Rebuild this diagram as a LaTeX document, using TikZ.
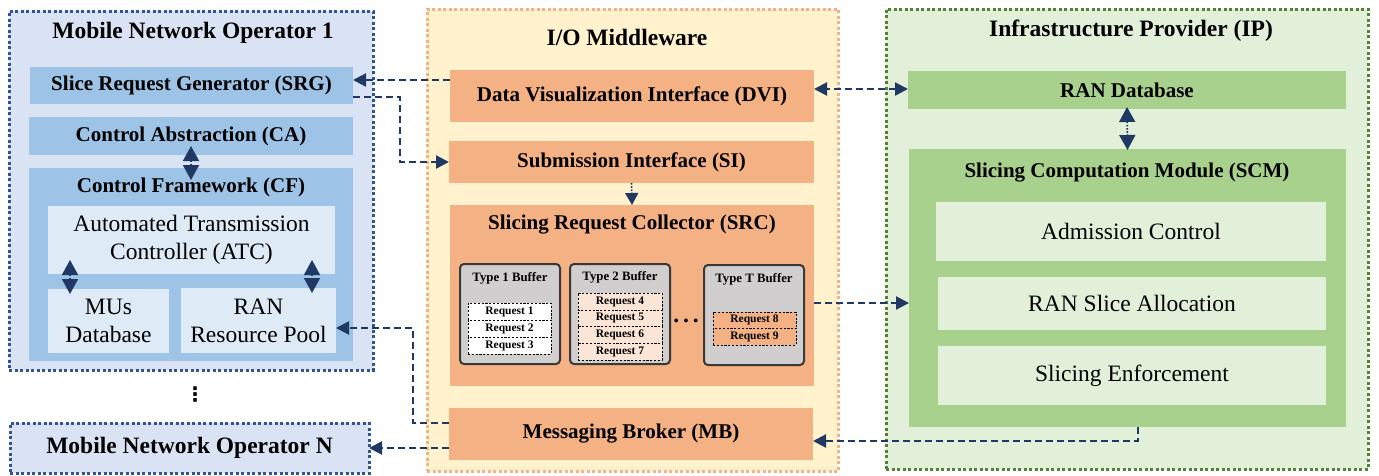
\documentclass[tikz,border=0pt]{standalone}
\usepackage{fontspec}
\setmainfont{Liberation Serif}
\newfontfamily\dejavu{DejaVu Sans}
\usetikzlibrary{arrows.meta,calc}
\definecolor{mnofill}{HTML}{DAE3F3}
\definecolor{mnoline}{HTML}{2F5597}
\definecolor{bluemid}{HTML}{9DC3E6}
\definecolor{bluelight}{HTML}{DEEBF7}
\definecolor{iofill}{HTML}{FFF2CC}
\definecolor{ioline}{HTML}{F4B183}
\definecolor{orangebox}{HTML}{F4B183}
\definecolor{ipfill}{HTML}{E2F0D9}
\definecolor{ipline}{HTML}{548235}
\definecolor{greenbox}{HTML}{A9D18E}
\definecolor{arrowc}{HTML}{203864}
\definecolor{bufgray}{HTML}{D0CECE}
\definecolor{bufline}{HTML}{3B3838}
\definecolor{reqpeach}{HTML}{FBE5D6}
\newcommand{\fttl}{\fontsize{23.5}{27}\selectfont\bfseries}
\newcommand{\fsub}{\fontsize{21}{25}\selectfont\bfseries}
\newcommand{\freg}{\fontsize{23.5}{28}\selectfont}
\newcommand{\fbuf}{\fontsize{12.8}{15}\selectfont\bfseries}
\newcommand{\freq}{\fontsize{11.5}{13}\selectfont\bfseries}
\begin{document}
\begin{tikzpicture}[x=1pt,y=-1pt,
  rect/.style n args={4}{minimum width={#3-#1}, minimum height={#4-#2}, at={({(#1+#3)/2},{(#2+#4)/2})}},
  bx/.style={inner sep=0pt, outer sep=0pt, align=center, anchor=center},
  dotborder/.style={line width=3pt, dash pattern=on 3pt off 2.5pt},
  ttl/.style={inner sep=0pt, font=\fttl},
  subbox/.style={bx, font=\fsub},
  regbox/.style={bx, font=\freg},
  buffer/.style={bx, fill=bufgray, draw=bufline, line width=2pt, rounded corners=4pt},
  bufttl/.style={inner sep=0pt, font=\fbuf},
  req/.style={bx, draw=black, line width=0.9pt, dash pattern=on 2.2pt off 1.6pt, font=\freq},
  conn/.style={draw=arrowc, line width=2.2pt, dash pattern=on 7pt off 4pt, -{Triangle[length=13pt,width=13pt]}},
  dconn/.style={draw=arrowc, line width=2.2pt, dash pattern=on 7pt off 4pt, {Triangle[length=13pt,width=13pt]}-{Triangle[length=13pt,width=13pt]}},
  dbl/.style={draw=arrowc, line width=1.6pt, dash pattern=on 1.6pt off 1.6pt, {Triangle[length=15pt,width=16pt]}-{Triangle[length=15pt,width=16pt]}},
  sgl/.style={draw=arrowc, line width=1.6pt, dash pattern=on 1.6pt off 1.6pt, -{Triangle[length=12pt,width=13pt]}}
]
\useasboundingbox (0,0) rectangle (1379,475);

% ---------------- Mobile Network Operator 1
\node[bx, fill=mnofill, draw=mnoline, dotborder, rect={9}{11}{373}{370}] (mno1) {};
\node[ttl] (mno1t) at (193,33) {Mobile Network Operator 1};
\node[subbox, fill=bluemid, rect={30}{67}{353}{104}] (srg) {Slice Request Generator (SRG)};
\node[subbox, fill=bluemid, rect={29}{117}{353}{155}] (ca) {Control Abstraction (CA)};
\node[bx, fill=bluemid, rect={29}{168}{353}{361}] (cf) {};
\node[ttl, font=\fsub] (cft) at (191,187) {Control Framework (CF)};
\node[regbox, fill=bluelight, rect={48}{206}{335}{274}] (atc) {Automated Transmission\\Controller (ATC)};
\node[regbox, fill=bluelight, rect={48}{289}{169}{353}] (mus) {MUs\\Database};
\node[regbox, fill=bluelight, rect={181}{288}{336}{353}] (rrp) {RAN\\Resource Pool};
\draw[dbl] ($(ca.south)+(0,-9)$) -- ($(cf.north)+(0,12)$);
\draw[dbl] ($(atc.south west)+(22,-14)$) -- ($(mus.north west)+(22,5)$);
\draw[dbl] ($(atc.south east)+(-23,-14)$) -- ($(rrp.north east)+(-24,5)$);
\node[inner sep=0pt, font=\dejavu\bfseries\fontsize{20}{22}\selectfont] (vd) at (195,395) {⋮};

% ---------------- Mobile Network Operator N
\node[subbox, font=\fttl, fill=mnofill, draw=mnoline, dotborder, rect={10}{423}{369}{473}] (mnon) {Mobile Network Operator N};

% ---------------- I/O Middleware
\node[bx, fill=iofill, draw=ioline, dotborder, rect={427}{9}{838}{471}] (io) {};
\node[ttl] (iot) at (627,37) {I/O Middleware};
\node[subbox, fill=orangebox, rect={450}{70}{814}{122}] (dvi) {Data Visualization Interface (DVI)};
\node[subbox, fill=orangebox, rect={449}{141}{814}{183}] (si) {Submission Interface (SI)};
\node[bx, fill=orangebox, rect={450}{205}{814}{386}] (src) {};
\node[ttl, font=\fsub] (srct) at (632,225) {Slicing Request Collector (SRC)};

\node[buffer, rect={460}{264}{560}{364}] (b1) {};
\node[bufttl] (b1t) at (510,278) {Type 1 Buffer};
\node[req, fill=white, rect={468}{303}{551}{320}] (r1) {Request 1};
\node[req, fill=white, rect={468}{320}{551}{337}] (r2) {Request 2};
\node[req, fill=white, rect={468}{337}{551}{354}] (r3) {Request 3};

\node[buffer, rect={570}{264}{670}{364}] (b2) {};
\node[bufttl] (b2t) at (620,277) {Type 2 Buffer};
\node[req, fill=reqpeach, rect={578}{293}{662}{310}] (r4) {Request 4};
\node[req, fill=reqpeach, rect={578}{310}{662}{326}] (r5) {Request 5};
\node[req, fill=reqpeach, rect={578}{326}{662}{343}] (r6) {Request 6};
\node[req, fill=reqpeach, rect={578}{343}{662}{360}] (r7) {Request 7};

\node[inner sep=0pt, font=\freg\bfseries] (hd) at (686,321) {.\,.\,.};

\node[buffer, rect={704}{265}{804}{365}] (bt) {};
\node[bufttl] (btt) at (754,279) {Type T Buffer};
\node[req, fill=orangebox, rect={713}{312}{796}{328}] (r8) {Request 8};
\node[req, fill=orangebox, rect={713}{328}{796}{345}] (r9) {Request 9};

\node[subbox, fill=orangebox, rect={449}{408}{813}{460}] (mb) {Messaging Broker (MB)};
\draw[sgl] (si.south) -- (src.north);

% ---------------- Infrastructure Provider
\node[bx, fill=ipfill, draw=ipline, dotborder, rect={886}{9}{1368}{469}] (ip) {};
\node[ttl] (ipt) at (1131,31) {Infrastructure Provider (IP)};
\node[subbox, fill=greenbox, rect={908}{71}{1346}{109}] (rdb) {RAN Database};
\node[bx, fill=greenbox, rect={909}{149}{1346}{427}] (scm) {};
\node[ttl, font=\fsub] (scmt) at (1127,173) {Slicing Computation Module (SCM)};
\node[regbox, fill=ipfill, rect={936}{202}{1326}{261}] (ac) {Admission Control};
\node[regbox, fill=ipfill, rect={938}{277}{1326}{330}] (rsa) {RAN Slice Allocation};
\node[regbox, fill=ipfill, rect={938}{346}{1326}{405}] (se) {Slicing Enforcement};
\draw[dbl] ($(rdb.south)+(0,-2)$) -- ($(scm.north)+(0,1)$);

% ---------------- Connectors
\draw[conn] (dvi.north west) ++(0,10) coordinate (c1) -- (c1 -| srg.east);
\draw[conn] (srg.south east) ++(0,-7) coordinate (c2) -- ++(47,0) |- (si.west);
\draw[dconn] (rdb.west) ++(0,-1) coordinate (c3) -- (c3 -| dvi.east);
\draw[conn] ($(rsa.west -| src.east)+(0,-0.5)$) -- ($(rsa.west -| scm.west)+(0,-0.5)$);
\draw[conn] (scm.south) ++(10.5,0) -- ++(0,14) coordinate (c5) -- (c5 -| mb.east);
\draw[conn] (mb.north west) ++(0,15) -- ++(-36,0) |- ($(rrp.east)+(0,7.5)$);
\draw[conn] (mb.south west) ++(0,-12) coordinate (c7) -- (c7 -| mnon.east);
\end{tikzpicture}
\end{document}
